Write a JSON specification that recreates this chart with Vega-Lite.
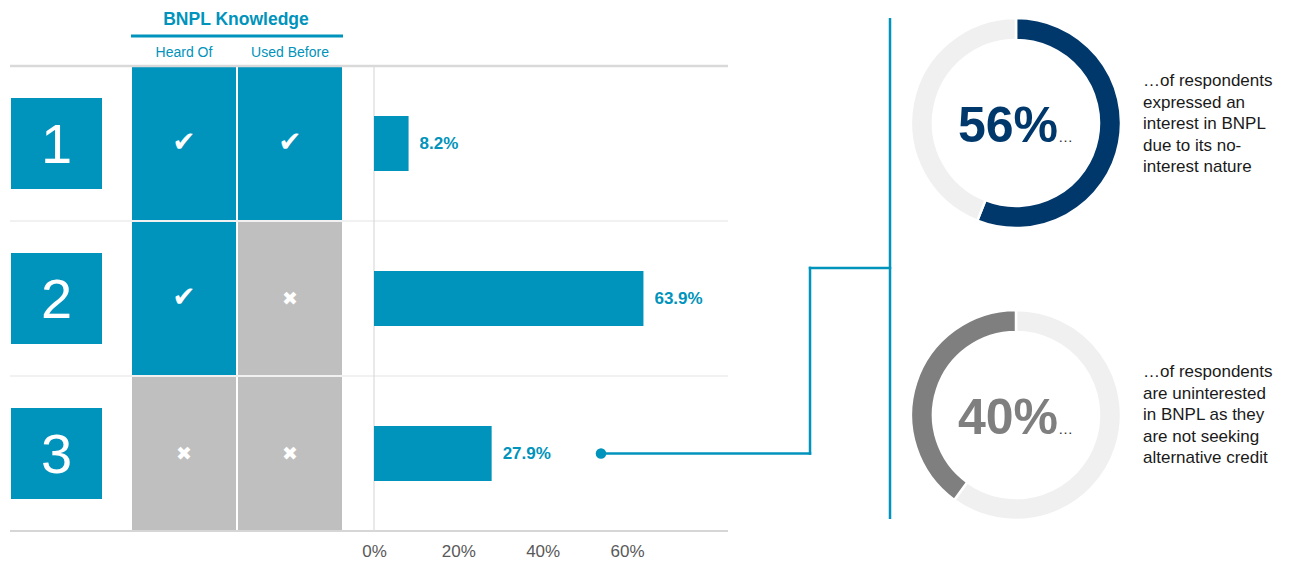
{
  "$schema": "https://vega.github.io/schema/vega-lite/v6.json",
  "padding": 0,
  "background": "#ffffff",
  "config": {"view": {"stroke": null}, "font": "Liberation Sans", "text": {"font": "Liberation Sans"}},
  "spacing": 0,
  "bounds": "flush",
  "align": "none",
  "resolve": {"scale": {"color": "independent", "theta": "independent", "x": "independent", "y": "independent"}},
  "hconcat": [
    {
      "width": 113,
      "height": 531,
      "data": {"values": [{"group": 1}, {"group": 2}, {"group": 3}]},
      "layer": [
        {
          "mark": {"type": "point", "shape": "square", "size": 8281, "filled": true, "opacity": 1, "color": "#0093BB", "strokeWidth": 0},
          "encoding": {"y": {"field": "group", "type": "quantitative", "scale": {"domain": [0.07419, 3.5], "reverse": true, "nice": false, "zero": false, "padding": 0}, "axis": null}}
        },
        {
          "mark": {"type": "text", "color": "#ffffff", "fontSize": 56, "baseline": "middle", "dy": 2},
          "encoding": {
            "y": {"field": "group", "type": "quantitative"},
            "text": {"field": "group", "type": "quantitative"}
          }
        }
      ]
    },
    {
      "width": 229,
      "height": 531,
      "data": {"values": [
        {"group": 1, "knowledge": "Heard Of", "status": "Yes"},
        {"group": 1, "knowledge": "Used Before", "status": "Yes"},
        {"group": 2, "knowledge": "Heard Of", "status": "Yes"},
        {"group": 2, "knowledge": "Used Before", "status": "No"},
        {"group": 3, "knowledge": "Heard Of", "status": "No"},
        {"group": 3, "knowledge": "Used Before", "status": "No"}
      ]},
      "layer": [
        {
          "mark": {"type": "rect", "height": 153},
          "encoding": {
            "x": {"field": "knowledge", "type": "nominal", "scale": {"type": "band", "paddingInner": 0.0189, "paddingOuter": 0.0896, "align": 1}, "axis": null},
            "y": {"field": "group", "type": "quantitative", "scale": {"domain": [0.07419, 3.5], "reverse": true, "nice": false, "zero": false, "padding": 0}, "axis": null},
            "color": {"field": "status", "type": "nominal", "scale": {"domain": ["Yes", "No"], "range": ["#0093BB", "#BFBFBF"]}, "legend": null}
          }
        },
        {
          "transform": [{"filter": "datum.status === 'Yes'"}],
          "mark": {"type": "text", "text": "✔", "font": "DejaVu Sans", "fontSize": 28, "color": "#ffffff", "baseline": "middle", "dy": -1},
          "encoding": {
            "x": {"field": "knowledge", "type": "nominal"},
            "y": {"field": "group", "type": "quantitative"}
          }
        },
        {
          "transform": [{"filter": "datum.status === 'No'"}],
          "mark": {"type": "text", "text": "✖", "font": "DejaVu Sans", "fontSize": 19, "color": "#ffffff", "baseline": "middle"},
          "encoding": {
            "x": {"field": "knowledge", "type": "nominal"},
            "y": {"field": "group", "type": "quantitative"}
          }
        },
        {
          "transform": [{"filter": "datum.group === 1"}],
          "mark": {"type": "text", "fontSize": 14, "color": "#0093BB", "baseline": "middle"},
          "encoding": {
            "x": {"field": "knowledge", "type": "nominal"},
            "y": {"datum": 0.4161, "type": "quantitative"},
            "text": {"field": "knowledge", "type": "nominal"}
          }
        },
        {
          "transform": [{"filter": "datum.group === 1"}],
          "mark": {"type": "rect", "height": 1, "color": "#0093BB", "stroke": "#0093BB", "strokeWidth": 2},
          "encoding": {
            "x": {"field": "knowledge", "type": "nominal"},
            "y": {"datum": 0.3065, "type": "quantitative"}
          }
        },
        {
          "transform": [{"filter": "datum.group === 1 && datum.knowledge === 'Heard Of'"}],
          "mark": {"type": "text", "text": "BNPL Knowledge", "fontSize": 17.5, "fontWeight": "bold", "color": "#0093BB", "baseline": "middle"},
          "encoding": {
            "x": {"datum": "Heard Of", "type": "nominal", "bandPosition": 1},
            "y": {"datum": 0.2032, "type": "quantitative"}
          }
        }
      ]
    },
    {
      "width": 548,
      "height": 531,
      "layer": [
        {
          "data": {"values": [{}]},
          "mark": {"type": "rule", "color": "#E3E3E3", "strokeWidth": 1},
          "encoding": {"x": {"datum": -0.8632, "type": "quantitative"}, "x2": {"datum": 0.8395}, "y": {"datum": 1.5, "type": "quantitative"}}
        },
        {
          "data": {"values": [{}]},
          "mark": {"type": "rule", "color": "#E3E3E3", "strokeWidth": 1},
          "encoding": {"x": {"datum": -0.8632, "type": "quantitative"}, "x2": {"datum": 0.8395}, "y": {"datum": 2.5, "type": "quantitative"}}
        },
        {
          "data": {"values": [{}]},
          "mark": {"type": "rule", "color": "#D9D9D9", "strokeWidth": 2.5},
          "encoding": {"x": {"datum": -0.8632, "type": "quantitative"}, "x2": {"datum": 0.8395}, "y": {"datum": 0.5, "type": "quantitative"}}
        },
        {
          "data": {"values": [{}]},
          "mark": {"type": "rule", "color": "#D6D6D6", "strokeWidth": 2},
          "encoding": {"x": {"datum": -0.8632, "type": "quantitative"}, "x2": {"datum": 0.8395}, "y": {"datum": 3.5, "type": "quantitative"}}
        },
        {
          "data": {"values": [{}]},
          "mark": {"type": "rule", "color": "#DADADA", "strokeWidth": 1.2},
          "encoding": {"x": {"datum": 0, "type": "quantitative"}, "y": {"datum": 0.5, "type": "quantitative"}, "y2": {"datum": 3.5}}
        },
        {
          "data": {"values": [{"group": 1, "share": 0.082}, {"group": 2, "share": 0.639}, {"group": 3, "share": 0.279}]},
          "layer": [
            {
              "mark": {"type": "bar", "orient": "horizontal", "height": 55, "color": "#0093BB"},
              "encoding": {
                "x": {"field": "share", "type": "quantitative", "title": null,
                  "scale": {"domain": [-0.07589, 1.2237], "nice": false, "zero": false, "padding": 0},
                  "axis": {"values": [0, 0.2, 0.4, 0.6], "format": ".0%", "domain": false, "ticks": false, "grid": false, "labelFontSize": 17, "labelColor": "#595959", "labelPadding": 12, "labelFont": "Liberation Sans", "title": null}},
                "y": {"field": "group", "type": "quantitative", "scale": {"domain": [0.07419, 3.5], "reverse": true, "nice": false, "zero": false, "padding": 0}, "axis": null}
              }
            },
            {
              "mark": {"type": "text", "align": "left", "dx": 11, "fontSize": 17, "fontWeight": "bold", "color": "#0093BB", "baseline": "middle"},
              "encoding": {
                "x": {"field": "share", "type": "quantitative"},
                "y": {"field": "group", "type": "quantitative"},
                "text": {"field": "share", "type": "quantitative", "format": ".1%"}
              }
            }
          ]
        },
        {
          "data": {"values": [{}]},
          "mark": {"type": "rule", "color": "#0093BB", "strokeWidth": 2.5, "strokeCap": "square"},
          "encoding": {"x": {"datum": 0.5383, "type": "quantitative"}, "x2": {"datum": 1.034}, "y": {"datum": 3, "type": "quantitative"}}
        },
        {
          "data": {"values": [{}]},
          "mark": {"type": "rule", "color": "#0093BB", "strokeWidth": 2.5, "strokeCap": "square"},
          "encoding": {"x": {"datum": 1.034, "type": "quantitative"}, "y": {"datum": 3, "type": "quantitative"}, "y2": {"datum": 1.803}}
        },
        {
          "data": {"values": [{}]},
          "mark": {"type": "rule", "color": "#0093BB", "strokeWidth": 2.5, "strokeCap": "square"},
          "encoding": {"x": {"datum": 1.034, "type": "quantitative"}, "x2": {"datum": 1.2237}, "y": {"datum": 1.803, "type": "quantitative"}}
        },
        {
          "data": {"values": [{}]},
          "mark": {"type": "rule", "color": "#0093BB", "strokeWidth": 2.5},
          "encoding": {"x": {"datum": 1.2237, "type": "quantitative"}, "y": {"datum": 0.1903, "type": "quantitative"}, "y2": {"datum": 3.4226}}
        },
        {
          "data": {"values": [{}]},
          "mark": {"type": "point", "filled": true, "opacity": 1, "size": 110, "color": "#0093BB"},
          "encoding": {"x": {"datum": 0.5383, "type": "quantitative"}, "y": {"datum": 3, "type": "quantitative"}}
        }
      ]
    },
    {
      "spacing": 59,
      "bounds": "full",
      "resolve": {"scale": {"color": "independent", "theta": "independent"}},
      "vconcat": [
        {
          "spacing": 0,
          "bounds": "flush",
          "resolve": {"scale": {"color": "independent", "theta": "independent"}},
          "hconcat": [
            {
              "width": 252,
              "height": 246,
              "data": {"values": [{"segment": "Interested (no-interest nature)", "share": 0.56, "seq": 1}, {"segment": "Other", "share": 0.44, "seq": 2}]},
              "layer": [
                {
                  "mark": {"type": "arc", "outerRadius": 105, "innerRadius": 83, "stroke": "#ffffff", "strokeWidth": 2.5},
                  "encoding": {
                    "theta": {"field": "share", "type": "quantitative"},
                    "color": {"field": "segment", "type": "nominal", "scale": {"domain": ["Interested (no-interest nature)", "Other"], "range": ["#00386C", "#F0F0F0"]}, "legend": null},
                    "order": {"field": "seq", "type": "quantitative"}
                  }
                },
                {
                  "transform": [{"filter": "datum.seq === 1"}],
                  "mark": {"type": "text", "fontSize": 50, "fontWeight": "bold", "color": "#00386C", "align": "right", "baseline": "alphabetic", "dx": 42, "dy": 19},
                  "encoding": {"text": {"field": "share", "type": "quantitative", "format": ".0%"}}
                },
                {
                  "transform": [{"filter": "datum.seq === 1"}],
                  "mark": {"type": "text", "text": "…", "fontSize": 15, "color": "#333333", "align": "left", "baseline": "alphabetic", "dx": 42, "dy": 19},
                  "encoding": {}
                }
              ]
            },
            {
              "width": 2,
              "height": 246,
              "data": {"values": [{"note": "…of respondents\nexpressed an\ninterest in BNPL\ndue to its no-\ninterest nature"}]},
              "mark": {"type": "text", "align": "left", "baseline": "middle", "lineBreak": "\n", "lineHeight": 21.5, "fontSize": 17, "color": "#1A1A1A", "dy": -42},
              "encoding": {"text": {"field": "note", "type": "nominal"}}
            }
          ]
        },
        {
          "spacing": 0,
          "bounds": "flush",
          "resolve": {"scale": {"color": "independent", "theta": "independent"}},
          "hconcat": [
            {
              "width": 252,
              "height": 220,
              "data": {"values": [{"segment": "Other", "share": 0.60, "seq": 1}, {"segment": "Uninterested (not seeking credit)", "share": 0.40, "seq": 2}]},
              "layer": [
                {
                  "mark": {"type": "arc", "outerRadius": 105, "innerRadius": 83, "stroke": "#ffffff", "strokeWidth": 2.5},
                  "encoding": {
                    "theta": {"field": "share", "type": "quantitative"},
                    "color": {"field": "segment", "type": "nominal", "scale": {"domain": ["Uninterested (not seeking credit)", "Other"], "range": ["#7F7F7F", "#F0F0F0"]}, "legend": null},
                    "order": {"field": "seq", "type": "quantitative"}
                  }
                },
                {
                  "transform": [{"filter": "datum.seq === 2"}],
                  "mark": {"type": "text", "fontSize": 50, "fontWeight": "bold", "color": "#7F7F7F", "align": "right", "baseline": "alphabetic", "dx": 42, "dy": 19},
                  "encoding": {"text": {"field": "share", "type": "quantitative", "format": ".0%"}}
                },
                {
                  "transform": [{"filter": "datum.seq === 2"}],
                  "mark": {"type": "text", "text": "…", "fontSize": 15, "color": "#333333", "align": "left", "baseline": "alphabetic", "dx": 42, "dy": 19},
                  "encoding": {}
                }
              ]
            },
            {
              "width": 2,
              "height": 220,
              "data": {"values": [{"note": "…of respondents\nare uninterested\nin BNPL as they\nare not seeking\nalternative credit"}]},
              "mark": {"type": "text", "align": "left", "baseline": "middle", "lineBreak": "\n", "lineHeight": 21.5, "fontSize": 17, "color": "#1A1A1A", "dy": -43},
              "encoding": {"text": {"field": "note", "type": "nominal"}}
            }
          ]
        }
      ]
    }
  ]
}
